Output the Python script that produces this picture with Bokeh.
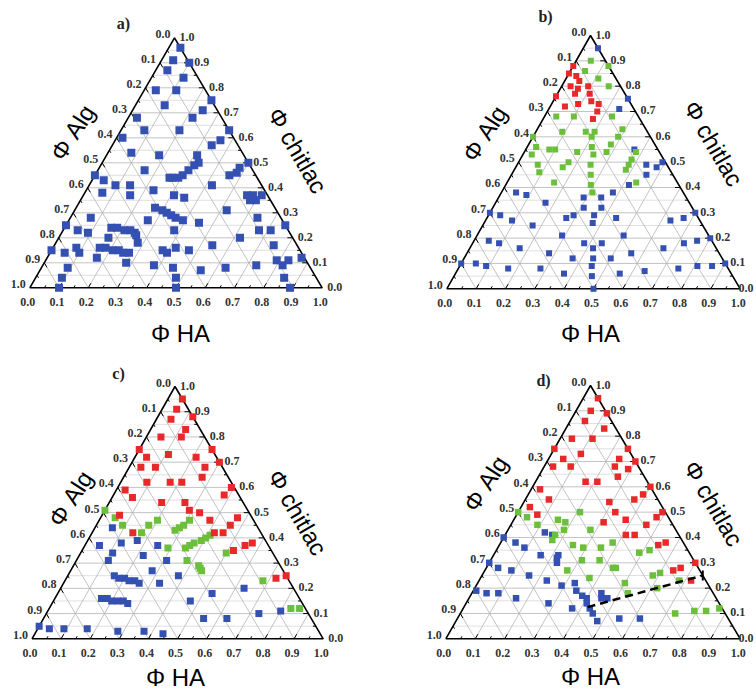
import math
from bokeh.plotting import figure
from bokeh.models import Range1d
from bokeh.core.properties import value
from bokeh.embed import file_html
from bokeh.resources import INLINE

# ---------------- data: compositions (phi HA, phi chitlac); phi Alg = 1 - HA - chitlac
A_BLUE = [(0.04,0.96),(0.04,0.91),(0.10,0.90),(0.04,0.87),(0.11,0.84),(0.04,0.79),(0.11,0.79),
          (0.25,0.75),(0.10,0.73),(0.24,0.71),(0.22,0.68),(0.03,0.68),(0.08,0.63),(0.20,0.63),
          (0.37,0.63),(0.02,0.60),(0.36,0.59),(0.34,0.57),(0.08,0.54),(0.18,0.53),
          (0.31,0.53),(0.33,0.50),(0.32,0.49),(0.31,0.47),(0.30,0.45),(0.29,0.44),(0.27,0.44),(0.26,0.44),
          (0.50,0.50),(0.48,0.48),(0.48,0.46),(0.46,0.45),(0.16,0.47),(0.00,0.45),
          (0.04,0.43),(0.09,0.41),(0.14,0.41),(0.06,0.38),(0.16,0.37),(0.23,0.39),(0.31,0.37),
          (0.35,0.36),(0.42,0.41),(0.56,0.37),(0.58,0.37),(0.58,0.35),(0.60,0.35),(0.61,0.37),
          (0.27,0.32),(0.30,0.31),(0.32,0.30),(0.34,0.29),(0.36,0.28),(0.39,0.27),
          (0.27,0.27),(0.45,0.26),(0.52,0.31),(0.07,0.28),
          (0.16,0.24),(0.18,0.24),(0.21,0.23),(0.23,0.23),(0.25,0.22),(0.26,0.21),
          (0.17,0.20),(0.28,0.18),(0.00,0.25),(0.05,0.23),(0.09,0.22),
          (0.38,0.23),(0.54,0.17),(0.62,0.20),(0.64,0.28),(0.67,0.23),(0.71,0.23),(0.75,0.25),(0.75,0.17),
          (0.79,0.11),(0.82,0.09),(0.83,0.11),(0.87,0.12),(0.85,0.04),(0.89,0.00),
          (0.38,0.15),(0.40,0.14),(0.42,0.16),(0.47,0.15),(0.45,0.08),(0.48,0.04),(0.50,0.00),
          (0.38,0.09),(0.55,0.07),(0.63,0.08),(0.73,0.09),
          (0.16,0.16),(0.18,0.16),(0.21,0.15),(0.23,0.15),(0.25,0.14),(0.27,0.14),(0.28,0.10),
          (0.17,0.12),(0.00,0.15),(0.05,0.14),(0.08,0.16),(0.10,0.14),(0.09,0.08),(0.09,0.04),(0.10,0.00)]

B_BLUE = [(0.05,0.95),(0.25,0.75),(0.24,0.71),(0.37,0.55),(0.49,0.50),(0.44,0.49),(0.48,0.48),
          (0.46,0.45),(0.42,0.41),(0.05,0.38),(0.09,0.37),(0.17,0.34),(0.29,0.36),(0.35,0.36),
          (0.38,0.38),(0.31,0.32),(0.37,0.32),(0.00,0.30),(0.04,0.29),(0.09,0.27),(0.17,0.25),
          (0.27,0.28),(0.29,0.29),(0.36,0.29),(0.37,0.26),(0.44,0.28),(0.63,0.27),(0.67,0.28),
          (0.70,0.30),(0.05,0.19),(0.09,0.18),(0.17,0.16),(0.29,0.21),(0.38,0.18),(0.42,0.16),
          (0.44,0.18),(0.50,0.21),(0.66,0.16),(0.72,0.18),(0.76,0.19),(0.80,0.20),(0.00,0.10),
          (0.05,0.10),(0.09,0.09),(0.17,0.08),(0.28,0.14),(0.37,0.12),(0.44,0.12),(0.45,0.09),
          (0.47,0.05),(0.50,0.00),(0.50,0.12),(0.56,0.14),(0.28,0.08),(0.37,0.06),(0.56,0.06),
          (0.64,0.07),(0.75,0.08),(0.81,0.09),(0.86,0.09),(0.90,0.10)]
B_GREEN = [(0.05,0.90),(0.12,0.88),(0.05,0.86),(0.11,0.83),(0.16,0.80),(0.04,0.68),(0.10,0.68),
           (0.23,0.68),(0.09,0.62),(0.17,0.62),(0.20,0.62),(0.20,0.60),(0.22,0.56),(0.24,0.53),
           (0.25,0.49),(0.27,0.45),(0.29,0.41),(0.31,0.38),(0.29,0.63),(0.29,0.60),(0.00,0.60),
           (0.03,0.56),(0.08,0.55),(0.10,0.55),(0.18,0.54),(0.28,0.54),(0.28,0.57),(0.38,0.54),
           (0.38,0.51),(0.38,0.49),(0.38,0.47),(0.03,0.53),(0.07,0.49),(0.09,0.46),(0.17,0.50),
           (0.16,0.48),(0.16,0.42),(0.44,0.42)]
B_RED = [(0.00,0.88),(0.00,0.85),(0.03,0.84),(0.05,0.82),(0.03,0.80),(0.06,0.79),(0.09,0.80),
         (0.06,0.77),(0.11,0.77),(0.00,0.76),(0.05,0.72),(0.09,0.73),(0.13,0.74),(0.16,0.73),
         (0.17,0.70),(0.17,0.67)]

C_BLUE = [(0.06,0.44),(0.05,0.37),(0.12,0.38),(0.17,0.39),(0.25,0.37),(0.11,0.34),(0.11,0.31),
          (0.22,0.33),(0.31,0.31),(0.28,0.27),(0.16,0.25),(0.18,0.24),(0.20,0.24),(0.22,0.23),
          (0.24,0.23),(0.26,0.22),(0.33,0.22),(0.38,0.25),(0.16,0.16),(0.18,0.16),(0.20,0.15),
          (0.22,0.15),(0.24,0.15),(0.26,0.14),(0.47,0.15),(0.53,0.18),(0.63,0.20),(0.55,0.08),
          (0.63,0.08),(0.73,0.10),(0.80,0.11),(0.00,0.05),(0.04,0.04),(0.09,0.04),(0.17,0.04),
          (0.28,0.03),(0.37,0.03),(0.44,0.02)]
C_GREEN = [(0.00,0.51),(0.05,0.48),(0.09,0.45),(0.17,0.42),(0.18,0.45),(0.20,0.47),(0.28,0.43),
           (0.29,0.44),(0.30,0.45),(0.31,0.47),(0.29,0.36),(0.35,0.36),(0.36,0.37),(0.37,0.38),
           (0.39,0.39),(0.40,0.40),(0.41,0.41),(0.38,0.31),(0.43,0.29),(0.44,0.28),(0.45,0.27),
           (0.50,0.34),(0.68,0.23),(0.83,0.12),(0.86,0.12)]
C_RED = [(0.05,0.95),(0.05,0.91),(0.12,0.88),(0.05,0.87),(0.12,0.83),(0.05,0.80),(0.12,0.80),
         (0.25,0.75),(0.00,0.75),(0.11,0.73),(0.04,0.72),(0.21,0.72),(0.30,0.70),(0.04,0.68),
         (0.09,0.68),(0.26,0.68),(0.27,0.64),(0.09,0.62),(0.17,0.62),(0.21,0.62),(0.39,0.60),
         (0.03,0.59),(0.38,0.57),(0.07,0.56),(0.18,0.54),(0.26,0.54),(0.29,0.51),(0.33,0.50),
         (0.38,0.47),(0.47,0.48),(0.42,0.42),(0.45,0.42),(0.46,0.45),(0.06,0.49),(0.14,0.42),
         (0.57,0.38),(0.55,0.37),(0.52,0.35),(0.72,0.24),(0.75,0.25)]

D_BLUE = [(0.00,0.40),(0.05,0.38),(0.09,0.36),(0.13,0.42),(0.16,0.41),(0.16,0.33),(0.22,0.33),
          (0.22,0.32),(0.23,0.30),(0.00,0.30),(0.04,0.28),(0.09,0.27),(0.16,0.25),(0.23,0.23),
          (0.29,0.21),(0.33,0.22),(0.35,0.19),(0.38,0.17),(0.40,0.16),(0.41,0.14),(0.43,0.12),
          (0.45,0.10),(0.44,0.18),(0.45,0.16),(0.47,0.16),(0.01,0.19),(0.05,0.18),(0.09,0.18),
          (0.16,0.16),(0.28,0.14),(0.37,0.12),(0.48,0.07),(0.55,0.08),(0.62,0.08)]
D_GREEN = [(0.00,0.50),(0.04,0.48),(0.09,0.45),(0.15,0.47),(0.18,0.46),(0.21,0.50),(0.17,0.41),
           (0.19,0.43),(0.17,0.39),(0.28,0.43),(0.25,0.37),(0.29,0.36),(0.35,0.36),(0.38,0.38),
           (0.28,0.27),(0.31,0.31),(0.37,0.31),(0.43,0.28),(0.44,0.28),(0.49,0.34),(0.52,0.35),
           (0.37,0.24),(0.50,0.22),(0.53,0.18),(0.58,0.25),(0.60,0.26),(0.62,0.20),(0.68,0.23),
           (0.73,0.10),(0.79,0.11),(0.83,0.11),(0.87,0.12)]
D_RED = [(0.05,0.95),(0.05,0.90),(0.11,0.89),(0.05,0.86),(0.13,0.83),(0.04,0.79),(0.11,0.79),
         (0.25,0.75),(0.00,0.75),(0.10,0.73),(0.05,0.71),(0.24,0.71),(0.30,0.70),(0.03,0.68),
         (0.09,0.68),(0.24,0.68),(0.29,0.67),(0.27,0.64),(0.17,0.62),(0.21,0.62),(0.03,0.59),
         (0.40,0.60),(0.39,0.57),(0.08,0.55),(0.29,0.54),(0.37,0.55),(0.03,0.52),(0.49,0.50),
         (0.07,0.49),(0.33,0.50),(0.38,0.47),(0.31,0.46),(0.46,0.45),(0.48,0.48),(0.41,0.41),
         (0.44,0.41),(0.54,0.37),(0.56,0.38),(0.64,0.27),(0.66,0.28),(0.70,0.30),(0.72,0.23)]
D_BOUNDARY = [(0.42,0.125),(0.75,0.25)]

TICK_VALUES = [0.0,0.1,0.2,0.3,0.4,0.5,0.6,0.7,0.8,0.9,1.0]
TICK_LABELS = ["0.0","0.1","0.2","0.3","0.4","0.5","0.6","0.7","0.8","0.9","1.0"]
PANEL_LETTERS = ["a)", "b)", "c)", "d)"]

# ---------------- layout (page pixels, y downward)
PAGE_W = 756
PAGE_H = 693
FRAMES = {  # left vertex, right vertex, apex
    "a": ((29.3, 287.3), (321.7, 287.3), (174.0, 37.3)),
    "b": ((446.3, 288.3), (739.7, 288.3), (590.0, 35.0)),
    "c": ((31.5, 638.3), (322.7, 638.3), (174.5, 386.0)),
    "d": ((445.3, 638.3), (739.7, 638.3), (590.0, 385.0)),
}
TITLES = {  # letter pos, HA pos, Alg pos, chitlac pos
    "a": ((123, 23), (180, 333), (72, 132), (297, 150)),
    "b": ((545, 16), (590, 333), (484, 133), (713, 143)),
    "c": ((118, 373), (175, 677), (70, 498), (297, 512)),
    "d": ((543, 380), (590, 676), (485, 483), (713, 503)),
}
SERIES = {
    "a": [(A_BLUE, "#3451b2", 8)],
    "b": [(B_BLUE, "#3451b2", 6), (B_GREEN, "#6bbf3a", 6), (B_RED, "#e8292a", 6)],
    "c": [(C_BLUE, "#3451b2", 7), (C_GREEN, "#6bbf3a", 7), (C_RED, "#e8292a", 7)],
    "d": [(D_BLUE, "#3451b2", 6.5), (D_GREEN, "#6bbf3a", 6.5), (D_RED, "#e8292a", 6.5)],
}
LABEL_W = 17  # approx. width of a tick label in px


def tern(key, h, c):
    L, R, A = FRAMES[key]
    x = L[0] + h * (R[0] - L[0]) + c * (A[0] - L[0])
    y = L[1] + h * (R[1] - L[1]) + c * (A[1] - L[1])
    return x, PAGE_H - y


p = figure(width=PAGE_W, height=PAGE_H, x_range=Range1d(0, PAGE_W), y_range=Range1d(0, PAGE_H),
           toolbar_location=None, output_backend="svg", min_border=0,
           x_axis_location=None, y_axis_location=None)
p.xgrid.visible = False
p.ygrid.visible = False
p.outline_line_color = None
p.background_fill_color = "white"

serif = value("Liberation Serif")
sans = value("Liberation Sans")

for idx, key in enumerate(["a", "b", "c", "d"]):
    # grid lines
    gx0, gy0, gx1, gy1 = [], [], [], []
    mx0, my0, mx1, my1 = [], [], [], []
    for k in range(1, 20):
        v = k / 20.0
        if k % 2 == 0:
            for (p0, p1) in [((0, v), (1 - v, v)), ((v, 0), (v, 1 - v)), ((1 - v, 0), (0, 1 - v))]:
                a0 = tern(key, *p0); a1 = tern(key, *p1)
                gx0.append(a0[0]); gy0.append(a0[1]); gx1.append(a1[0]); gy1.append(a1[1])
        else:
            a0 = tern(key, 0, v); a1 = tern(key, 1 - v, v)
            mx0.append(a0[0]); my0.append(a0[1]); mx1.append(a1[0]); my1.append(a1[1])
    p.segment(mx0, my0, mx1, my1, line_color="#d2d2d2", line_width=0.7)
    p.segment(gx0, gy0, gx1, gy1, line_color="#b4b4b4", line_width=0.8)

    # triangle
    L = tern(key, 0, 0); R = tern(key, 1, 0); A = tern(key, 0, 1)
    p.line([L[0], R[0], A[0], L[0]], [L[1], R[1], A[1], L[1]], line_color="black", line_width=1.6)

    # ticks (inward along grid directions)
    tx0, ty0, tx1, ty1 = [], [], [], []
    for k in range(1, 20):
        v = k / 20.0
        ln = 0.018 if k % 2 == 0 else 0.01
        for (p0, p1) in [((v, 0), (v, ln)), ((1 - v, v), (1 - v - ln, v)), ((0, 1 - v), (ln, 1 - v - ln))]:
            a0 = tern(key, *p0); a1 = tern(key, *p1)
            tx0.append(a0[0]); ty0.append(a0[1]); tx1.append(a1[0]); ty1.append(a1[1])
    p.segment(tx0, ty0, tx1, ty1, line_color="black", line_width=1.0)

    # data points
    for pts, col, sz in SERIES[key]:
        xs, ys = [], []
        for h, c in pts:
            x, y = tern(key, h, c)
            xs.append(x); ys.append(y)
        p.scatter(xs, ys, marker="square", size=sz, fill_color=col, line_color=None)

    # tick labels
    bx, by, rx, ry, lx, ly = [], [], [], [], [], []
    for v in TICK_VALUES:
        x, y = tern(key, v, 0); bx.append(x - 2); by.append(y - 14)
        x, y = tern(key, 1 - v, v)
        rx.append(min(x + 5, PAGE_W - 1 - LABEL_W)); ry.append(y + 1)
        x, y = tern(key, 0, 1 - v); lx.append(x - 4); ly.append(y + 4)
    common = dict(text_font=serif, text_font_style="bold", text_font_size="12px",
                  text_color="#333333", text_baseline="middle")
    p.text(bx, by, text=TICK_LABELS, text_align="center", **common)
    p.text(rx, ry, text=TICK_LABELS, text_align="left", **common)
    p.text(lx, ly, text=TICK_LABELS, text_align="right", **common)

    # titles
    (lt, ha, alg, chi) = TITLES[key]
    p.text([lt[0]], [PAGE_H - lt[1]], text=[PANEL_LETTERS[idx]], text_font=serif,
           text_font_style="bold", text_font_size="16px", text_color="#222222",
           text_align="center", text_baseline="middle")
    tcommon = dict(text_font=sans, text_font_size="24px", text_color="black",
                   text_align="center", text_baseline="middle")
    p.text([ha[0]], [PAGE_H - ha[1]], text=["\u03a6 HA"], **tcommon)
    p.text([alg[0]], [PAGE_H - alg[1]], text=["\u03a6 Alg"], angle=math.radians(57), **tcommon)
    p.text([chi[0]], [PAGE_H - chi[1]], text=["\u03a6 chitlac"], angle=math.radians(-60), **tcommon)

# phase boundary in panel d
bxs, bys = [], []
for h, c in D_BOUNDARY:
    x, y = tern("d", h, c)
    bxs.append(x); bys.append(y)
p.line(bxs, bys, line_color="black", line_width=2.5, line_dash="8 5")
p.segment([bxs[-1]], [bys[-1] - 5], [bxs[-1]], [bys[-1] + 5], line_color="black", line_width=2)

open("out.html", "w").write(file_html(p, INLINE))
